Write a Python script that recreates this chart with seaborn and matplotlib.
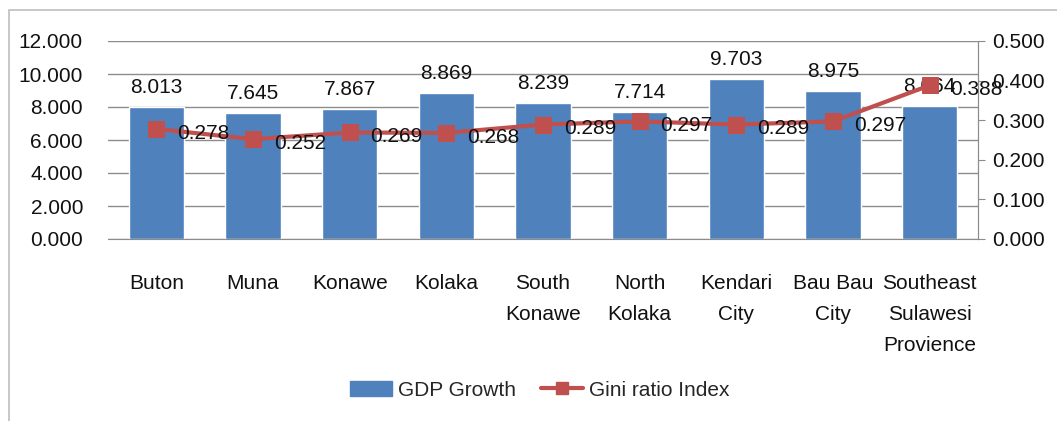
import matplotlib
matplotlib.use("Agg")
import matplotlib.pyplot as plt
import seaborn as sns
import numpy as np
import pandas as pd
from matplotlib.patches import Rectangle
from matplotlib.lines import Line2D
from matplotlib.patches import Patch

categories = ["Buton", "Muna", "Konawe", "Kolaka", "South\nKonawe", "North\nKolaka",
              "Kendari\nCity", "Bau Bau\nCity", "Southeast\nSulawesi\nProvience"]
gdp_growth = [8.013, 7.645, 7.867, 8.869, 8.239, 7.714, 9.703, 8.975, 8.064]
gini_ratio = [0.278, 0.252, 0.269, 0.268, 0.289, 0.297, 0.289, 0.297, 0.388]
left_ticks = [0, 2, 4, 6, 8, 10, 12]
right_ticks = [0.0, 0.1, 0.2, 0.3, 0.4, 0.5]

sns.set_style("white")
plt.rcParams['font.family'] = ['Liberation Sans Narrow', 'Liberation Sans', 'DejaVu Sans']

BAR = "#4F81BD"
LINE = "#C0504D"
TXT = "#111111"
FS = 15

fig = plt.figure(figsize=(10.57, 4.21), dpi=100)
fig.patches.append(Rectangle((9/1057, -0.01), 1.1, 1 - 10/421 + 0.01,
                             transform=fig.transFigure, fill=False,
                             edgecolor="#BFBFBF", linewidth=1.2))
ax = fig.add_axes([108/1057, 1 - 239/421, 870/1057, 198/421])

df = pd.DataFrame({"cat": categories, "gdp": gdp_growth, "gini": gini_ratio})
sns.barplot(data=df, x="cat", y="gdp", order=categories, color=BAR, width=0.57,
            saturation=1, ax=ax, zorder=2)
ax.set_ylim(0, 12)
ax.set_yticks(left_ticks)
ax.set_yticklabels([f"{v:.3f}" for v in left_ticks], fontsize=FS, color=TXT)
ax.yaxis.grid(True, color="#8C8C8C", linewidth=1)
ax.set_axisbelow(True)
ax.set_xlabel("")
ax.set_ylabel("")
ax.tick_params(axis="y", length=0, pad=18)
ax.tick_params(axis="x", length=0, pad=25, labelsize=FS, labelcolor=TXT)
for lbl in ax.get_xticklabels():
    lbl.set_linespacing(1.8)
    lbl.set_verticalalignment("top")
for s in ["left", "top"]:
    ax.spines[s].set_visible(False)
ax.spines["bottom"].set_color("#8C8C8C")
ax.spines["right"].set_color("#8C8C8C")

for i, v in enumerate(gdp_growth):
    ax.annotate(f"{v:.3f}", (i, v), xytext=(0, 7), textcoords="offset points",
                ha="center", va="bottom", fontsize=FS, color=TXT, zorder=5)

ax2 = ax.twinx()
xs = np.arange(len(categories))
sns.lineplot(x=xs, y=gini_ratio, ax=ax2, color=LINE, linewidth=3, marker="s",
             markersize=12, markeredgecolor=LINE, zorder=4)
ax2.set_ylim(0, 0.5)
ax2.set_yticks(right_ticks)
ax2.set_yticklabels([f"{v:.3f}" for v in right_ticks], fontsize=FS, color=TXT)
ax2.tick_params(axis="y", length=5, color="#8C8C8C", pad=5)
for s in ["left", "top", "bottom"]:
    ax2.spines[s].set_visible(False)
ax2.spines["right"].set_color("#8C8C8C")
for i, v in enumerate(gini_ratio):
    ax2.annotate(f"{v:.3f}", (i, v), xytext=(15, -3), textcoords="offset points",
                 ha="left", va="center", fontsize=FS, color=TXT, zorder=6)
ax.set_xlim(-0.5, len(categories) - 0.5)

handles = [Patch(facecolor=BAR, edgecolor=BAR),
           Line2D([0], [0], color=LINE, linewidth=3, marker="s", markersize=9)]
fig.legend(handles, ["GDP Growth", "Gini ratio Index"], loc="center",
           bbox_to_anchor=(540/1057, 1 - 390/421), ncol=2, frameon=False,
           fontsize=FS, handlelength=2.0, columnspacing=1.2, handletextpad=0.3)

fig.savefig("out.png", dpi=100)
